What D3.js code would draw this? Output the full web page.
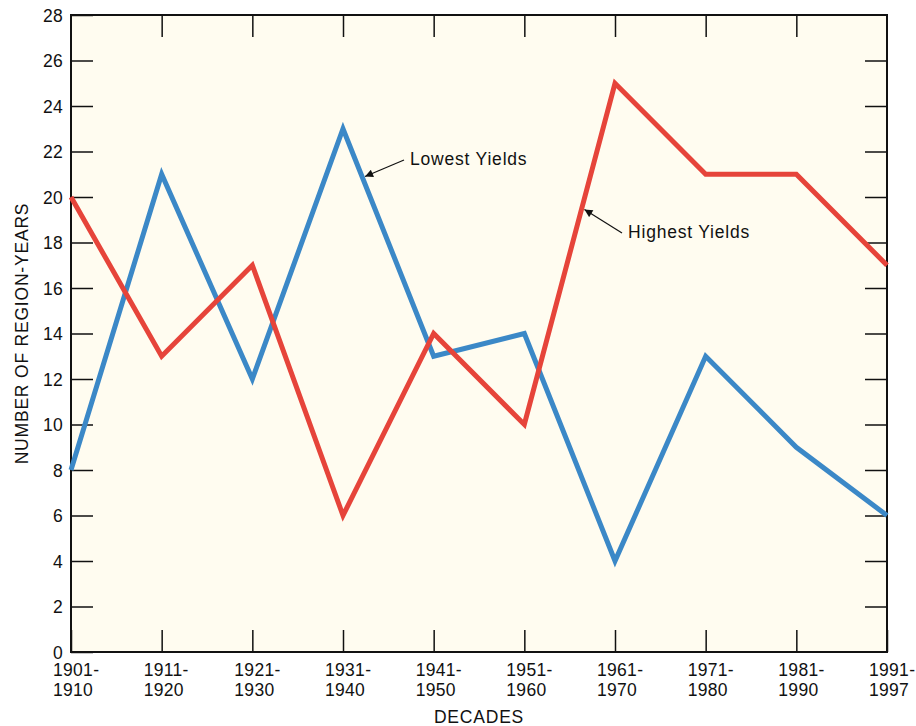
<!DOCTYPE html>
<meta charset="utf-8">
<style>
    body { margin: 0; background: #fff; font-family: 'Liberation Sans', Arial, sans-serif; }
    #graph { width: 916px; height: 726px; }
    text { letter-spacing: 0.8px; }
    .xlab text, .yl text { letter-spacing: 0.3px; }
</style>
<script src="https://d3js.org/d3.v7.min.js"></script>
<div id="graph"></div>
<script>
    const decades = ["1901-1910", "1911-1920", "1921-1930", "1931-1940", "1941-1950",
        "1951-1960", "1961-1970", "1971-1980", "1981-1990", "1991-1997"];
    const lowestYields = [8, 21, 12, 23, 13, 14, 4, 13, 9, 6];
    const highestYields = [20, 13, 17, 6, 14, 10, 25, 21, 21, 17];
    const yTicks = d3.range(0, 29, 2);

    const margin = {top: 15, right: 29, bottom: 74, left: 71},
        width = 916 - margin.left - margin.right,
        height = 726 - margin.top - margin.bottom;
    const fs = 17.5, ff = "'Liberation Sans', Arial, sans-serif";

    const svg = d3.select("#graph").append("svg")
        .attr("width", 916).attr("height", 726)
        .append("g")
        .attr("transform", `translate(${margin.left},${margin.top})`);

    const x = d3.scalePoint().domain(decades).range([0, width]);
    const y = d3.scaleLinear().domain([0, 28]).range([height, 0]);

    svg.append("rect").attr("width", width).attr("height", height).attr("fill", "#fffcf0");

    // ticks inside on all four sides
    const tk = 22;
    svg.append("g").attr("class", "yl")
        .call(d3.axisLeft(y).tickValues(yTicks).tickSize(-tk).tickPadding(8))
        .call(g => g.select(".domain").remove());
    svg.append("g").attr("transform", `translate(${width},0)`)
        .call(d3.axisRight(y).tickValues(yTicks.slice(1, -1)).tickSize(-tk).tickFormat(""))
        .call(g => g.select(".domain").remove());
    svg.append("g").attr("transform", `translate(0,${height})`)
        .call(d3.axisBottom(x).tickSize(-tk).tickFormat(""))
        .call(g => g.select(".domain").remove());
    svg.append("g")
        .call(d3.axisTop(x).tickValues(decades.slice(1, -1)).tickSize(-tk).tickFormat(""))
        .call(g => g.select(".domain").remove());
    svg.selectAll(".tick line").attr("stroke", "#111").attr("stroke-width", 1.5);
    svg.select(".yl").selectAll("text")
        .attr("font-family", ff).attr("font-size", fs).attr("fill", "#111").attr("dy", "0.35em");

    // two-line decade labels
    const xl = svg.append("g").attr("class", "xlab").selectAll("text").data(decades).enter().append("text")
        .attr("x", d => x(d) - 18)
        .attr("y", height + 24)
        .attr("font-family", ff).attr("font-size", fs).attr("fill", "#111");
    xl.append("tspan").text(d => d.split("-")[0] + "-");
    xl.append("tspan").attr("x", d => x(d) - 18).attr("dy", 19.5).text(d => d.split("-")[1]);

    svg.append("rect").attr("width", width).attr("height", height)
        .attr("fill", "none").attr("stroke", "#111").attr("stroke-width", 2);

    const line = d3.line().x((d, i) => x(decades[i])).y(d => y(d));
    svg.append("path").datum(lowestYields).attr("d", line)
        .attr("fill", "none").attr("stroke", "#3b88c7").attr("stroke-width", 5);
    svg.append("path").datum(highestYields).attr("d", line)
        .attr("fill", "none").attr("stroke", "#e6443a").attr("stroke-width", 5);

    // annotations
    svg.append("defs").append("marker").attr("id", "arr")
        .attr("viewBox", "0 0 10 10").attr("refX", 10).attr("refY", 5)
        .attr("markerWidth", 10).attr("markerHeight", 8).attr("orient", "auto")
        .attr("markerUnits", "userSpaceOnUse")
        .append("path").attr("d", "M0,0L10,5L0,10z").attr("fill", "#111");

    function onSeg(series, i, t) {
        return [x(decades[i]) + t * (x(decades[i + 1]) - x(decades[i])),
            y(series[i]) + t * (y(series[i + 1]) - y(series[i]))];
    }
    const notes = [
        {label: "Lowest Yields", series: lowestYields, i: 3, t: 0.21, dx: 3, tx: 339, ty: 150},
        {label: "Highest Yields", series: highestYields, i: 5, t: 0.63, dx: 3, tx: 557, ty: 223}
    ];
    notes.forEach(n => {
        const p = onSeg(n.series, n.i, n.t);
        svg.append("line")
            .attr("x1", n.tx - 6).attr("y1", n.ty - 5)
            .attr("x2", p[0] + n.dx).attr("y2", p[1])
            .attr("stroke", "#111").attr("stroke-width", 1.2).attr("marker-end", "url(#arr)");
        svg.append("text").attr("x", n.tx).attr("y", n.ty)
            .attr("font-family", ff).attr("font-size", fs).attr("fill", "#111").text(n.label);
    });

    // axis titles
    svg.append("text").attr("x", width / 2).attr("y", height + 71)
        .attr("text-anchor", "middle").attr("font-family", ff).attr("font-size", fs).attr("fill", "#111").text("DECADES");
    svg.append("text").attr("transform", `translate(-43,${height / 2}) rotate(-90)`)
        .attr("text-anchor", "middle").attr("font-family", ff).attr("font-size", fs).attr("fill", "#111").text("NUMBER OF REGION-YEARS");
</script>
